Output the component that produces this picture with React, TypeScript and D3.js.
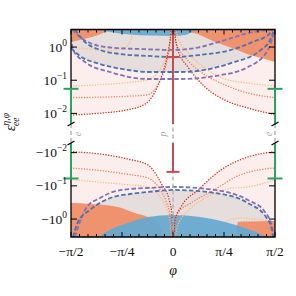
import React from 'react';
import * as d3 from 'd3';

type Pt = [number, number]; // [phi in degrees, |eps|]

// ---- axis ticks
const phiMajor = [-90, -45, 0, 45, 90];
const phiLabels = ['−π/2', '−π/4', '0', 'π/4', 'π/2'];
const phiMinor = [-82.5, -75, -67.5, -60, -52.5, -37.5, -30, -22.5, -15, -7.5, 7.5, 15, 22.5, 30, 37.5, 52.5, 60, 67.5, 75, 82.5];
const posTicks = [1, 0.1, 0.01];
const posTickExp = ['0', '−1', '−2'];

// ---- dotted bounds (positive panel)
const redDotTop: Pt[] = [[-90, 0.0089], [-64, 0.0102], [-42, 0.0125], [-24.7, 0.019], [-15.9, 0.044], [-9.7, 0.144], [-5.3, 0.5], [-2.6, 1.63], [-1.3, 3.8], [0.9, 5], [1.8, 2.31], [4.4, 0.82], [13.2, 0.25], [28.2, 0.063], [45.9, 0.025], [66.2, 0.0145], [90, 0.0092]];
const orangeDotTop: Pt[] = [[-90, 0.03], [-60, 0.031], [-40, 0.033], [-22.9, 0.036], [-12, 0.09], [-6, 0.3], [-2.5, 1.2], [-1, 3.5], [0.9, 3.3], [2.6, 1.33], [10.6, 0.5], [24.7, 0.177], [45.9, 0.072], [66.2, 0.041], [90, 0.03]];
const peachDotTop: Pt[] = [[-90, 0.066], [-60, 0.075], [-40, 0.085], [-22.9, 0.102], [-12, 0.2], [-6, 0.5], [-2.5, 1.5], [-1, 4], [1, 4], [4.4, 1.9], [15, 0.58], [28.2, 0.234], [45.9, 0.109], [66.2, 0.082], [90, 0.066]];
const peachDotTopOuter: Pt[] = [[-90, 1.0], [-75, 0.88], [-58, 0.8], [-45, 0.9], [-38, 1.4], [-34, 4]];

// ---- dotted bounds (negative panel, |eps|)
const redDotBot: Pt[] = [[-90, 0.0093], [-60, 0.0115], [-40, 0.0155], [-22.1, 0.0235], [-10.6, 0.082], [-2.6, 0.33], [-0.9, 0.75], [-0.4, 4], [0.9, 3], [1.8, 1.07], [7.1, 0.43], [22.1, 0.133], [42.4, 0.033], [66.2, 0.0135], [90, 0.0093]];
const orangeDotBot: Pt[] = [[-90, 0.029], [-60, 0.036], [-40, 0.045], [-22.1, 0.058], [-12, 0.12], [-6, 0.3], [-2.5, 0.8], [-1, 3], [1.5, 2], [4.4, 0.66], [15.9, 0.33], [36.2, 0.133], [57.4, 0.05], [81, 0.031], [90, 0.029]];
const peachDotBot: Pt[] = [[-90, 0.065], [-60, 0.08], [-40, 0.092], [-22.1, 0.108], [-12, 0.2], [-6, 0.45], [-2.5, 1.2], [-1, 4], [1, 4], [4.4, 1.5], [15, 0.5], [30, 0.22], [50, 0.12], [66.2, 0.108], [90, 0.065]];
const peachDotBotOuter: Pt[] = [[40, 4], [44, 1.6], [52, 1.0], [60, 0.93], [75, 1.02], [90, 1.22]];

// ---- dashed contours
const bluUpTop: Pt[] = [[-86.5, 3.39], [-77.6, 1.42], [-64.4, 0.82], [-46.8, 0.62], [-22.1, 0.54], [0, 0.5], [23.8, 0.58], [51.2, 0.82], [72.4, 1.52], [81.2, 2.01], [85.6, 2.66], [87.4, 3.39]];
const purUpTop: Pt[] = [[-89.1, 3.39], [-82.1, 2.01], [-73.2, 1.33], [-55.6, 0.97], [-29.1, 0.875], [0, 0.82], [23.8, 1.0], [37.1, 1.33], [54.7, 2.01], [66.2, 2.66], [76.8, 3.05], [85.6, 3.39]];
const bluLoTop: Pt[] = [[-90, 0.94], [-82.1, 0.54], [-64.4, 0.31], [-37.9, 0.2], [-22.1, 0.177], [7.1, 0.177], [51.2, 0.33], [77.6, 0.82], [85.6, 1.63], [88.2, 2.66], [89.6, 3.4]];
const purLoTop: Pt[] = [[-90, 2.0], [-88.2, 0.82], [-77.6, 0.355], [-55.6, 0.177], [-22.1, 0.109], [7.1, 0.109], [37.1, 0.134], [66.2, 0.25], [83.8, 0.82], [89.1, 2.85]];
const purBot: Pt[] = [[-86.5, 3.47], [-82.1, 1.22], [-75.9, 0.43], [-64.4, 0.232], [-55.6, 0.164], [-37.9, 0.124], [-22.1, 0.116], [0, 0.108], [37.1, 0.133], [66.2, 0.267], [81.2, 0.61], [87.4, 1.73], [88.6, 3.47]];
const bluBot: Pt[] = [[-88.2, 3.47], [-83.8, 1.22], [-73.2, 0.53], [-52.9, 0.217], [-37.9, 0.176], [-22.1, 0.153], [0, 0.133], [37.1, 0.164], [66.2, 0.33], [82.1, 0.87], [87.4, 2.13], [88.2, 3.47]];

// ---- excluded regions
const orangeTL: Pt[] = [[-90, 1.42], [-82.1, 1.63], [-71.5, 2.01], [-61.8, 2.66], [-55.6, 3.39], [-53, 4]];
const blueTop: Pt[] = [[-68, 4], [-67.1, 3.39], [-55.6, 2.85], [-37.9, 2.39], [-20.3, 2.23], [0, 2.16], [10.6, 2.31], [15, 2.66], [19.4, 3.39], [20.5, 4]];
const orangeTR: Pt[] = [[10.5, 4], [11.5, 3.39], [23.8, 2.31], [37.1, 1.42], [52.1, 0.94], [67.9, 0.58], [81.2, 0.44], [90, 0.355]];
const orangeBL: Pt[] = [[-90, 0.33], [-73.2, 0.35], [-60, 0.377], [-46.8, 0.45], [-33.5, 0.66], [-22.1, 0.87], [-13.2, 1.31], [-7.1, 3.47], [-6, 4]];
const blueBot: Pt[] = [[-65.5, 4], [-64.4, 3.47], [-55.6, 2.13], [-42.4, 1.41], [-22.1, 0.87], [0, 0.75], [23.8, 0.87], [45.9, 1.22], [63.5, 1.86], [76.8, 2.81], [81.2, 3.47], [82, 4]];
const orangeBR: Pt[] = [[55.6, 4], [57, 1.3], [58, 1.2], [67.9, 1.18], [90, 1.15]];

// ---- bounds at phi = ±pi/2 (e) and phi = 0 (p)
const eBound = { lo: -0.06, hi: 0.055 };
const pBound = { lo: -0.038, hi: 0.5 };

const W = 296;
const H = 296;
const serif = '"Liberation Serif", "DejaVu Serif", serif';

export default function App() {
  const x = d3.scaleLinear().domain([-90, 90]).range([71, 275]);
  const yTop = d3.scaleLog().domain([10 ** -2.32, 10 ** 0.53]).range([124, 29.5]);
  const yBot = d3.scaleLog().domain([10 ** -2.29, 10 ** 0.54]).range([143, 237]);
  const [L, R] = x.range();
  const [tB, tT] = yTop.range();
  const [bT, bB] = yBot.range();

  const lineT = d3.line<Pt>().x(d => x(d[0])).y(d => yTop(d[1])).curve(d3.curveMonotoneX);
  const lineB = d3.line<Pt>().x(d => x(d[0])).y(d => yBot(d[1])).curve(d3.curveMonotoneX);
  const areaT = d3.area<Pt>().x(d => x(d[0])).y0(tT).y1(d => yTop(d[1])).curve(d3.curveMonotoneX);
  const areaB = d3.area<Pt>().x(d => x(d[0])).y0(bB).y1(d => yBot(d[1])).curve(d3.curveMonotoneX);

  const dot = { fill: 'none', strokeWidth: 1.4, strokeDasharray: '0.1 2.6', strokeLinecap: 'round' as const };
  const dash = { fill: 'none', strokeWidth: 1.8, strokeDasharray: '4.5 2.3' };

  const topLayers = (
    <g clipPath="url(#clipTop)">
      <rect x={L} y={tT} width={R - L} height={tB - tT} fill="#fff" />
      <path d={areaT(redDotTop) ?? ''} fill="#fceeec" />
      <path d={areaT(bluLoTop) ?? ''} fill="#e6dddd" />
      <path d={lineT(peachDotTopOuter) ?? ''} stroke="#fdbb84" {...dot} />
      <path d={areaT(orangeTL) ?? ''} fill="#ef8a62" opacity={0.9} />
      <path d={areaT(orangeTR) ?? ''} fill="#ef8a62" opacity={0.9} />
      <path d={areaT(blueTop) ?? ''} fill="#67a9cf" opacity={0.95} />
      <path d={lineT(peachDotTop) ?? ''} stroke="#fdbb84" {...dot} />
      <path d={lineT(orangeDotTop) ?? ''} stroke="#f4845a" {...dot} />
      <path d={lineT(redDotTop) ?? ''} stroke="#d7301f" {...dot} />
      <path d={lineT(purUpTop) ?? ''} stroke="#8172b2" {...dash} />
      <path d={lineT(bluUpTop) ?? ''} stroke="#4c72b0" {...dash} />
      <path d={lineT(bluLoTop) ?? ''} stroke="#4c72b0" {...dash} />
      <path d={lineT(purLoTop) ?? ''} stroke="#8172b2" {...dash} />
    </g>
  );

  const botLayers = (
    <g clipPath="url(#clipBot)">
      <rect x={L} y={bT} width={R - L} height={bB - bT} fill="#fff" />
      <path d={areaB(redDotBot) ?? ''} fill="#fceeec" />
      <path d={areaB(bluBot) ?? ''} fill="#e6dddd" />
      <path d={lineB(peachDotBotOuter) ?? ''} stroke="#fdbb84" {...dot} />
      <path d={areaB(orangeBL) ?? ''} fill="#ef8a62" opacity={0.9} />
      <path d={areaB(orangeBR) ?? ''} fill="#ef8a62" opacity={0.9} />
      <path d={areaB(blueBot) ?? ''} fill="#67a9cf" opacity={0.95} />
      <path d={lineB(peachDotBot) ?? ''} stroke="#fdbb84" {...dot} />
      <path d={lineB(orangeDotBot) ?? ''} stroke="#f4845a" {...dot} />
      <path d={lineB(redDotBot) ?? ''} stroke="#d7301f" {...dot} />
      <path d={lineB(purBot) ?? ''} stroke="#8172b2" {...dash} />
      <path d={lineB(bluBot) ?? ''} stroke="#4c72b0" {...dash} />
    </g>
  );

  const cap = 6.5;
  const eBar = (phi: number) => (
    <g stroke="#2ca25f" strokeWidth={2} key={'e' + phi}>
      <line x1={x(phi)} x2={x(phi)} y1={yTop(eBound.hi)} y2={tB} />
      <line x1={x(phi) - cap - 1} x2={x(phi) + cap + 1} y1={yTop(eBound.hi)} y2={yTop(eBound.hi)} />
      <line x1={x(phi)} x2={x(phi)} y1={bT} y2={yBot(-eBound.lo)} />
      <line x1={x(phi) - cap - 1} x2={x(phi) + cap + 1} y1={yBot(-eBound.lo)} y2={yBot(-eBound.lo)} />
    </g>
  );

  const brk = (cx: number, cy: number, k: string) => (
    <line key={k} x1={cx - 3.5} y1={cy + 2} x2={cx + 3.5} y2={cy - 2} stroke="#000" strokeWidth={1.2} />
  );

  return (
    <svg width={W} height={H} style={{ position: 'absolute', left: 0, top: 0 }} fontFamily={serif}>
      <defs>
        <clipPath id="clipTop"><rect x={L} y={tT} width={R - L} height={tB - tT} /></clipPath>
        <clipPath id="clipBot"><rect x={L} y={bT} width={R - L} height={bB - bT} /></clipPath>
      </defs>
      <rect width={W} height={H} fill="#fff" />
      {topLayers}
      {botLayers}

      {/* dashed guides at e and p directions */}
      <g stroke="#b5b5b5" strokeWidth={1.5} strokeDasharray="4 3">
        <line x1={x(0)} x2={x(0)} y1={tT} y2={bB} />
        <line x1={x(-90)} x2={x(-90)} y1={tB} y2={bT} />
        <line x1={x(90)} x2={x(90)} y1={tB} y2={bT} />
      </g>

      {/* proton bound at phi = 0 */}
      <g stroke="#c44e52" strokeWidth={2}>
        <line x1={x(0)} x2={x(0)} y1={tT} y2={tB} />
        <line x1={x(0) - cap} x2={x(0) + cap} y1={yTop(pBound.hi)} y2={yTop(pBound.hi)} />
        <line x1={x(0)} x2={x(0)} y1={bT} y2={yBot(-pBound.lo)} />
        <line x1={x(0) - cap} x2={x(0) + cap} y1={yBot(-pBound.lo)} y2={yBot(-pBound.lo)} />
      </g>

      {/* spines */}
      <g stroke="#000" strokeWidth={1.3} fill="none">
        <path d={`M${L},${tB}V${tT}H${R}V${tB}`} />
        <path d={`M${L},${bT}V${bB}H${R}V${bT}`} />
      </g>

      {eBar(-90)}
      {eBar(90)}
      {brk(L, tB, 'b1')}
      {brk(R, tB, 'b2')}
      {brk(L, bT, 'b3')}
      {brk(R, bT, 'b4')}

      {/* ticks */}
      <g stroke="#000" strokeWidth={1}>
        {phiMajor.map(p => (
          <g key={'M' + p}>
            <line x1={x(p)} x2={x(p)} y1={bB} y2={bB - 5} />
            <line x1={x(p)} x2={x(p)} y1={tT} y2={tT + 5} />
          </g>
        ))}
        {phiMinor.map(p => (
          <g key={'m' + p}>
            <line x1={x(p)} x2={x(p)} y1={bB} y2={bB - 3} />
            <line x1={x(p)} x2={x(p)} y1={tT} y2={tT + 3} />
          </g>
        ))}
        {posTicks.map(t => (
          <g key={'y' + t}>
            <line x1={L} x2={L + 6} y1={yTop(t)} y2={yTop(t)} />
            <line x1={R} x2={R - 6} y1={yTop(t)} y2={yTop(t)} />
            <line x1={L} x2={L + 6} y1={yBot(t)} y2={yBot(t)} />
            <line x1={R} x2={R - 6} y1={yBot(t)} y2={yBot(t)} />
          </g>
        ))}
      </g>

      {/* tick labels */}
      <g fontSize={13.5} fill="#111">
        {phiMajor.map((p, i) => (
          <text key={'l' + p} x={x(p)} y={256} textAnchor="middle">{phiLabels[i]}</text>
        ))}
        {posTicks.map((t, i) => (
          <text key={'pt' + t} x={67} y={yTop(t) + 4.5} textAnchor="end">
            10<tspan dy={-6} fontSize={9.5}>{posTickExp[i]}</tspan>
          </text>
        ))}
        {posTicks.map((t, i) => (
          <text key={'nt' + t} x={67} y={yBot(t) + 4.5} textAnchor="end">
            −10<tspan dy={-6} fontSize={9.5}>{posTickExp[i]}</tspan>
          </text>
        ))}
      </g>

      {/* axis labels */}
      <text x={x(0)} y={275} textAnchor="middle" fontSize={14} fontStyle="italic" fill="#111">φ</text>
      <text transform="translate(15,122) rotate(-90)" textAnchor="middle" fontSize={14} fontStyle="italic" fill="#111">
        ε<tspan dy={-6} fontSize={9.5}>η,φ</tspan><tspan dx={-13} dy={10} fontSize={9.5}>ee</tspan>
      </text>

      {/* direction labels */}
      <g fontSize={10} fontStyle="italic" fill="#aaa" textAnchor="middle">
        <text transform={`translate(${x(-90) + 10},134) rotate(-90)`}>e</text>
        <text transform={`translate(${x(90) - 3},134) rotate(-90)`}>e</text>
        <text transform={`translate(${x(0) - 7},134) rotate(-90)`}>p</text>
      </g>
    </svg>
  );
}
